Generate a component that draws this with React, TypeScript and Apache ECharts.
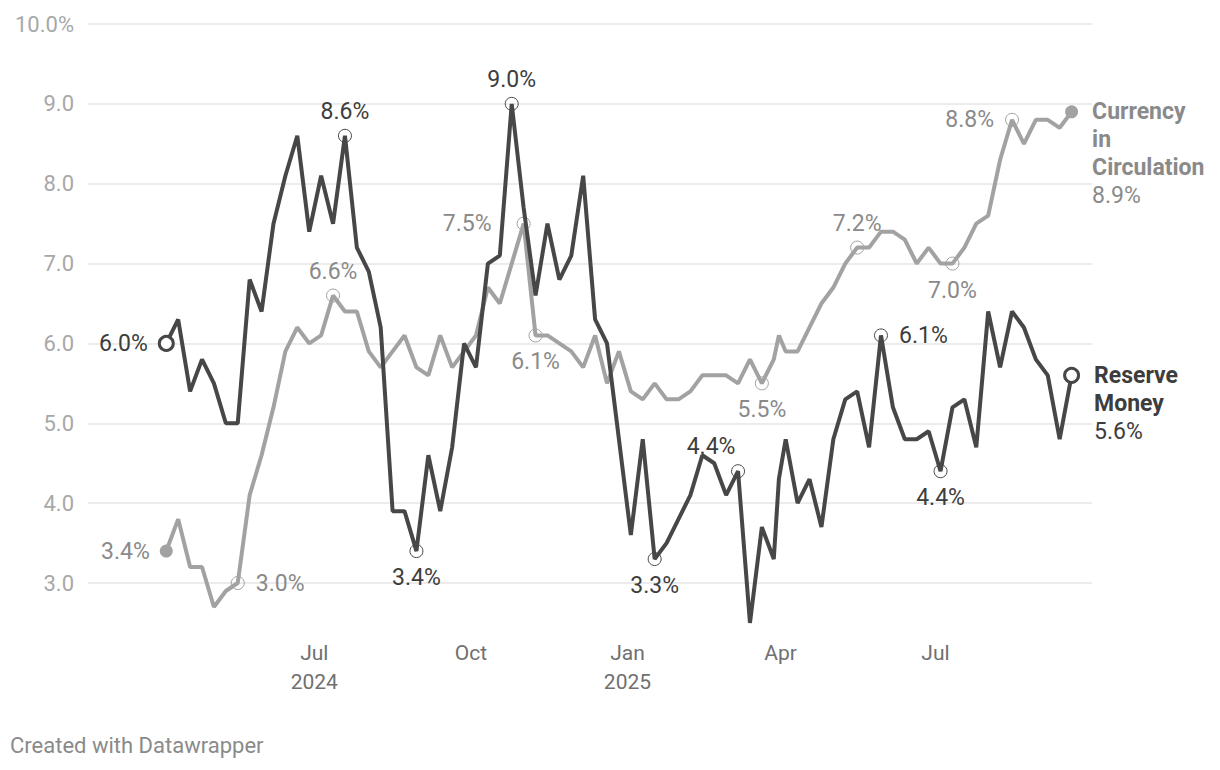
import React, { useEffect, useRef } from "react";
import * as echarts from "echarts";

// Reporting dates (weekly Fridays, plus the fiscal year-end 31 Mar 2025)
const dates = [
  "2024-04-05", "2024-04-12", "2024-04-19", "2024-04-26", "2024-05-03", "2024-05-10", "2024-05-17", "2024-05-24", "2024-05-31",
  "2024-06-07", "2024-06-14", "2024-06-21", "2024-06-28", "2024-07-05", "2024-07-12", "2024-07-19", "2024-07-26",
  "2024-08-02", "2024-08-09", "2024-08-16", "2024-08-23", "2024-08-30", "2024-09-06", "2024-09-13", "2024-09-20", "2024-09-27",
  "2024-10-04", "2024-10-11", "2024-10-18", "2024-10-25", "2024-11-01", "2024-11-08", "2024-11-15", "2024-11-22", "2024-11-29",
  "2024-12-06", "2024-12-13", "2024-12-20", "2024-12-27", "2025-01-03", "2025-01-10", "2025-01-17", "2025-01-24", "2025-01-31",
  "2025-02-07", "2025-02-14", "2025-02-21", "2025-02-28", "2025-03-07", "2025-03-14", "2025-03-21", "2025-03-28", "2025-03-31",
  "2025-04-04", "2025-04-11", "2025-04-18", "2025-04-25", "2025-05-02", "2025-05-09", "2025-05-16", "2025-05-23", "2025-05-30",
  "2025-06-06", "2025-06-13", "2025-06-20", "2025-06-27", "2025-07-04", "2025-07-11", "2025-07-18", "2025-07-25",
  "2025-08-01", "2025-08-08", "2025-08-15", "2025-08-22", "2025-08-29", "2025-09-05", "2025-09-12", "2025-09-19",
];

const reserveMoney = [
  6.0, 6.3, 5.4, 5.8, 5.5, 5.0, 5.0, 6.8, 6.4, 7.5,
  8.1, 8.6, 7.4, 8.1, 7.5, 8.6, 7.2, 6.9, 6.2, 3.9,
  3.9, 3.4, 4.6, 3.9, 4.7, 6.0, 5.7, 7.0, 7.1, 9.0,
  7.7, 6.6, 7.5, 6.8, 7.1, 8.1, 6.3, 6.0, 4.8, 3.6,
  4.8, 3.3, 3.5, 3.8, 4.1, 4.6, 4.5, 4.1, 4.4, 2.5,
  3.7, 3.3, 4.3, 4.8, 4.0, 4.3, 3.7, 4.8, 5.3, 5.4,
  4.7, 6.1, 5.2, 4.8, 4.8, 4.9, 4.4, 5.2, 5.3, 4.7,
  6.4, 5.7, 6.4, 6.2, 5.8, 5.6, 4.8, 5.6,
];

const currencyInCirculation = [
  3.4, 3.8, 3.2, 3.2, 2.7, 2.9, 3.0, 4.1, 4.6, 5.2,
  5.9, 6.2, 6.0, 6.1, 6.6, 6.4, 6.4, 5.9, 5.7, 5.9,
  6.1, 5.7, 5.6, 6.1, 5.7, 5.9, 6.1, 6.7, 6.5, 7.0,
  7.5, 6.1, 6.1, 6.0, 5.9, 5.7, 6.1, 5.5, 5.9, 5.4,
  5.3, 5.5, 5.3, 5.3, 5.4, 5.6, 5.6, 5.6, 5.5, 5.8,
  5.5, 5.8, 6.1, 5.9, 5.9, 6.2, 6.5, 6.7, 7.0, 7.2,
  7.2, 7.4, 7.4, 7.3, 7.0, 7.2, 7.0, 7.0, 7.2, 7.5,
  7.6, 8.3, 8.8, 8.5, 8.8, 8.8, 8.7, 8.9,
];

const seriesNames = ["Currency in Circulation", "Reserve Money"];
const endLabelLines = [["Currency", "in", "Circulation"], ["Reserve", "Money"]];
const monthNames = ["Jan", "Feb", "Mar", "Apr", "May", "Jun", "Jul", "Aug", "Sep", "Oct", "Nov", "Dec"];
const tickMonths = [0, 3, 6, 9];
const yTickMin = 3;
const yTickMax = 10;
const yTickStep = 1;

// daily axis extent (with the padding of the plot area)
const axisStart = "2024-02-19";
const axisEnd = "2025-10-01";

type LabelSpec = { i: number; kind?: "start" | "end"; position?: string; offset?: number[] };

const reserveLabels: LabelSpec[] = [
  { i: 0, kind: "start", position: "left" },
  { i: 15, position: "top" },
  { i: 21, position: "bottom" },
  { i: 29, position: "top" },
  { i: 41, position: "bottom" },
  { i: 48, position: "top", offset: [-27, 0] },
  { i: 61, position: "right" },
  { i: 66, position: "bottom" },
  { i: 77, kind: "end" },
];

const currencyLabels: LabelSpec[] = [
  { i: 0, kind: "start", position: "left" },
  { i: 6, position: "right" },
  { i: 14, position: "top" },
  { i: 30, position: "left", offset: [-14, 0] },
  { i: 31, position: "bottom" },
  { i: 50, position: "bottom" },
  { i: 59, position: "top" },
  { i: 67, position: "bottom" },
  { i: 72, position: "left" },
  { i: 77, kind: "end" },
];

const FONT = "Roboto, 'Noto Sans', sans-serif";
const LABEL_SIZE = 23;

function dayRange(a: string, b: string): string[] {
  const out: string[] = [];
  const [ay, am, ad] = a.split("-").map(Number);
  const [by, bm, bd] = b.split("-").map(Number);
  let t = Date.UTC(ay, am - 1, ad);
  const end = Date.UTC(by, bm - 1, bd);
  while (t <= end) {
    out.push(new Date(t).toISOString().slice(0, 10));
    t += 86400000;
  }
  return out;
}

function isQuarterTick(d: string): boolean {
  const m = Number(d.slice(5, 7)) - 1;
  return d.slice(8, 10) === "01" && tickMonths.includes(m) && d >= dates[0] && d <= dates[dates.length - 1];
}

function buildData(
  values: number[],
  specs: LabelSpec[],
  lineColor: string,
  textColor: string,
  nameLines: string[],
  filled: boolean
) {
  const distDir: Record<string, number> = { top: 6, bottom: 8, left: 11, right: 11 };
  return values.map((v, i) => {
    const spec = specs.find((s) => s.i === i);
    if (!spec) return { value: [dates[i], v], symbol: "none" };
    const txt = v.toFixed(1) + "%";
    if (spec.kind === "start" || spec.kind === "end") {
      const item: any = {
        value: [dates[i], v],
        symbol: "circle",
        symbolSize: filled ? 13 : 14,
        itemStyle: filled
          ? { color: lineColor, borderWidth: 0 }
          : { color: "#ffffff", borderColor: lineColor, borderWidth: 3 },
      };
      if (spec.kind === "start") {
        item.label = {
          show: true,
          position: "left",
          distance: 10,
          formatter: txt,
          color: textColor,
          fontSize: LABEL_SIZE,
          fontFamily: FONT,
        };
      } else {
        item.label = {
          show: true,
          position: "right",
          distance: 14,
          verticalAlign: "top",
          offset: [0, -14],
          formatter: nameLines.map((l) => "{b|" + l + "}").join("\n") + "\n{v|" + txt + "}",
          rich: {
            b: { fontSize: LABEL_SIZE, fontWeight: "bold", color: textColor, lineHeight: 28, fontFamily: FONT },
            v: { fontSize: LABEL_SIZE, color: textColor, lineHeight: 28, fontFamily: FONT },
          },
        };
      }
      return item;
    }
    const pos = spec.position || "top";
    return {
      value: [dates[i], v],
      symbol: "circle",
      symbolSize: 13,
      itemStyle: { color: "rgba(255,255,255,0)", borderColor: lineColor, borderWidth: 1 },
      label: {
        show: true,
        position: pos,
        distance: distDir[pos],
        offset: spec.offset || [0, 0],
        formatter: txt,
        color: textColor,
        fontSize: LABEL_SIZE,
        fontFamily: FONT,
      },
    };
  });
}

export default function App() {
  const ref = useRef<HTMLDivElement>(null);
  useEffect(() => {
    if (!ref.current) return;
    const chart = echarts.init(ref.current, undefined, { renderer: "svg" });
    const days = dayRange(axisStart, axisEnd);
    const firstTick = days.findIndex((d) => isQuarterTick(d));
    const darkLine = "#474747";
    const grayLine = "#a2a2a2";
    const darkText = "#3d3d3d";
    const grayText = "#8a8a8a";

    chart.setOption({
      animation: false,
      backgroundColor: "#ffffff",
      grid: { left: 80, right: 120, top: 16, bottom: 179, containLabel: false },
      xAxis: {
        type: "category",
        data: days,
        boundaryGap: false,
        axisLine: { show: false },
        axisTick: { show: false },
        splitLine: { show: false },
        axisLabel: {
          interval: (idx: number, val: string) => isQuarterTick(val),
          formatter: (val: string, idx: number) => {
            const y = val.slice(0, 4);
            const m = Number(val.slice(5, 7)) - 1;
            const showYear = m === 0 || idx === firstTick;
            return monthNames[m] + (showYear ? "\n" + y : "");
          },
          margin: 55,
          lineHeight: 29,
          fontSize: 21,
          color: "#707070",
          fontFamily: "'Liberation Sans Narrow', " + FONT,
        },
      },
      yAxis: {
        type: "value",
        min: yTickMin,
        max: yTickMax,
        interval: yTickStep,
        axisLine: { show: false },
        axisTick: { show: false },
        splitLine: { show: true, lineStyle: { color: "#e6e6e6", width: 1.5 } },
        axisLabel: {
          margin: 14,
          fontSize: 22,
          color: "#a8a8a8",
          fontFamily: FONT,
          formatter: (v: number) => (v === yTickMax ? v.toFixed(1) + "%" : v.toFixed(1)),
        },
      },
      series: [
        {
          name: seriesNames[0],
          type: "line",
          clip: false,
          silent: true,
          showSymbol: true,
          showAllSymbol: true,
          z: 2,
          lineStyle: { color: grayLine, width: 4 },
          itemStyle: { color: grayLine },
          data: buildData(currencyInCirculation, currencyLabels, grayLine, grayText, endLabelLines[0], true),
        },
        {
          name: seriesNames[1],
          type: "line",
          clip: false,
          silent: true,
          showSymbol: true,
          showAllSymbol: true,
          z: 3,
          lineStyle: { color: darkLine, width: 4 },
          itemStyle: { color: darkLine },
          data: buildData(reserveMoney, reserveLabels, darkLine, darkText, endLabelLines[1], false),
        },
      ],
      graphic: [
        {
          type: "text",
          left: 2,
          top: 726,
          style: { text: "Created with Datawrapper", fontSize: 22, fill: "#8a8a8a", fontFamily: FONT },
        },
      ],
    });
    return () => chart.dispose();
  }, []);
  return <div ref={ref} style={{ width: 1204, height: 754 }} />;
}
